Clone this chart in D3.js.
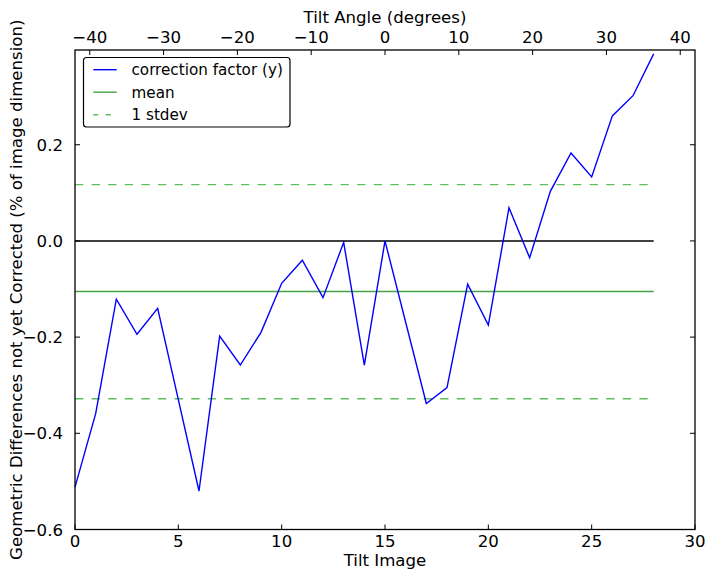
<!DOCTYPE html>
<html>
<head>
<meta charset="utf-8">
<script src="https://cdn.jsdelivr.net/npm/d3@7"></script>
<style>
  html, body { margin: 0; padding: 0; background: #fff; }
  svg { display: block; font-family: "DejaVu Sans", sans-serif; }
</style>
</head>
<body>
<svg id="chart" width="714" height="579"></svg>
<script>
// ---- data ----
const tiltImages = d3.range(0, 29);
const correction = [-0.512, -0.359, -0.121, -0.194, -0.140, -0.330, -0.520, -0.198, -0.258, -0.190,
                    -0.088, -0.040, -0.118, -0.003, -0.258, 0.000, -0.169, -0.338, -0.305, -0.090,
                    -0.175, 0.069, -0.035, 0.103, 0.183, 0.133, 0.260, 0.302, 0.389];
const meanValue = -0.105;
const stdUpper = 0.117;
const stdLower = -0.328;
const xTicks = [0, 5, 10, 15, 20, 25, 30];
const yTicks = [-0.6, -0.4, -0.2, 0.0, 0.2];
const topTicks = [-40, -30, -20, -10, 0, 10, 20, 30, 40];
const legendLabels = ["correction factor (y)", "mean", "1 stdev"];

// ---- layout ----
const L = 75, R = 695, T = 50, B = 529.5;
const svg = d3.select("#chart");
const x = d3.scaleLinear().domain([0, 30]).range([L, R]);
const y = d3.scaleLinear().domain([-0.6, 0.397]).range([B, T]);
const xTop = d3.scaleLinear().domain([-42, 42]).range([L, R]);

const minus = s => s.replace("-", "\u2212");
const fontSize = 16.6;
const tickLen = 5;

// lines
const g = svg.append("g");
const xEnd = tiltImages[tiltImages.length - 1];

// zero line
g.append("line").attr("x1", x(0)).attr("x2", x(xEnd)).attr("y1", y(0)).attr("y2", y(0))
  .attr("stroke", "#000").attr("stroke-width", 1.4);
// mean
g.append("line").attr("x1", x(0)).attr("x2", x(xEnd)).attr("y1", y(meanValue)).attr("y2", y(meanValue))
  .attr("stroke", "#45a345").attr("stroke-width", 1.4);
// stdev lines
[stdUpper, stdLower].forEach(v => {
  g.append("line").attr("x1", x(0)).attr("x2", x(xEnd)).attr("y1", y(v)).attr("y2", y(v))
    .attr("stroke", "#5cbf5c").attr("stroke-width", 1.4).attr("stroke-dasharray", "8.3,8.3");
});
// data line
const line = d3.line().x((d, i) => x(tiltImages[i])).y(d => y(d));
g.append("path").datum(correction).attr("d", line)
  .attr("fill", "none").attr("stroke", "#0000ff").attr("stroke-width", 1.4)
  .attr("stroke-linejoin", "miter");

// frame
svg.append("rect").attr("x", L).attr("y", T).attr("width", R - L).attr("height", B - T)
  .attr("fill", "none").attr("stroke", "#000").attr("stroke-width", 1.3);

// bottom ticks (inside)
const bx = svg.append("g");
xTicks.forEach(t => {
  bx.append("line").attr("x1", x(t)).attr("x2", x(t)).attr("y1", B).attr("y2", B - tickLen)
    .attr("stroke", "#000").attr("stroke-width", 1);
  bx.append("text").attr("x", x(t)).attr("y", B + 17.5).attr("text-anchor", "middle")
    .attr("font-size", fontSize).text(d3.format("d")(t));
});
// y ticks left + right (inside)
yTicks.forEach(t => {
  svg.append("line").attr("x1", L).attr("x2", L + tickLen).attr("y1", y(t)).attr("y2", y(t))
    .attr("stroke", "#000").attr("stroke-width", 1);
  svg.append("line").attr("x1", R).attr("x2", R - tickLen).attr("y1", y(t)).attr("y2", y(t))
    .attr("stroke", "#000").attr("stroke-width", 1);
  svg.append("text").attr("x", L - 12).attr("y", y(t) + 6).attr("text-anchor", "end")
    .attr("font-size", fontSize).text(minus(d3.format(".1f")(t)));
});
// top ticks
topTicks.forEach(t => {
  svg.append("line").attr("x1", xTop(t)).attr("x2", xTop(t)).attr("y1", T).attr("y2", T + tickLen)
    .attr("stroke", "#000").attr("stroke-width", 1);
  svg.append("text").attr("x", xTop(t)).attr("y", T - 7).attr("text-anchor", "middle")
    .attr("font-size", fontSize).text(minus(d3.format("d")(t)));
});

// axis labels
svg.append("text").attr("x", (L + R) / 2).attr("y", 566).attr("text-anchor", "middle")
  .attr("font-size", fontSize).text("Tilt Image");
svg.append("text").attr("x", (L + R) / 2).attr("y", 22.5).attr("text-anchor", "middle")
  .attr("font-size", fontSize).text("Tilt Angle (degrees)");
svg.append("text").attr("transform", `translate(21.5,${(T + B) / 2}) rotate(-90)`)
  .attr("text-anchor", "middle").attr("font-size", fontSize)
  .text("Geometric Differences not yet Corrected (% of image dimension)");

// legend
const lg = svg.append("g");
lg.append("rect").attr("x", 83.5).attr("y", 57.5).attr("width", 206.5).attr("height", 69.5)
  .attr("rx", 3).attr("fill", "#fff").attr("stroke", "#000").attr("stroke-width", 1.2);
const legendStyles = [
  {color: "#0000ff", dash: null},
  {color: "#45a345", dash: null},
  {color: "#5cbf5c", dash: "8.3,8.3"}
];
const rowY = [69.7, 92.2, 114.7];
legendLabels.forEach((lab, i) => {
  const ln = lg.append("line").attr("x1", 93.3).attr("x2", 116.7).attr("y1", rowY[i]).attr("y2", rowY[i])
    .attr("stroke", legendStyles[i].color).attr("stroke-width", 1.4);
  if (legendStyles[i].dash) ln.attr("stroke-dasharray", "5,7.5");
  lg.append("text").attr("x", 131.5).attr("y", rowY[i] + 5.5).attr("font-size", 15.2).text(lab);
});
</script>
</body>
</html>
